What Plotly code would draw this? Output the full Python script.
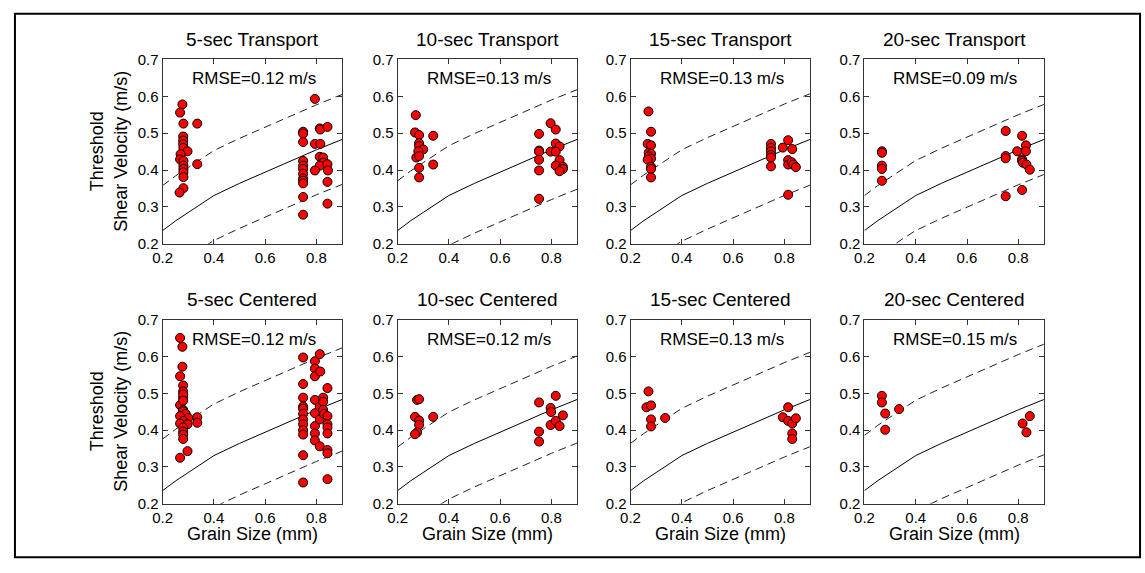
import plotly.graph_objects as go

W, H = 1145, 573

# ---------------- data ----------------
model_x = [0.2, 0.25, 0.3, 0.35, 0.4, 0.5, 0.6, 0.7, 0.8, 0.9]
model_y = [0.236, 0.262, 0.285, 0.309, 0.331, 0.364, 0.395, 0.425, 0.455, 0.483]

panel_titles = ["5-sec Transport", "10-sec Transport", "15-sec Transport", "20-sec Transport",
                "5-sec Centered", "10-sec Centered", "15-sec Centered", "20-sec Centered"]
rmse_labels = ["RMSE=0.12 m/s", "RMSE=0.13 m/s", "RMSE=0.13 m/s", "RMSE=0.09 m/s",
               "RMSE=0.12 m/s", "RMSE=0.12 m/s", "RMSE=0.13 m/s", "RMSE=0.15 m/s"]
band_halfwidth = [0.122, 0.135, 0.124, 0.095, 0.140, 0.118, 0.128, 0.150]

x_ticks = [0.2, 0.4, 0.6, 0.8]
y_ticks = [0.2, 0.3, 0.4, 0.5, 0.6, 0.7]

t5_x = [0.277, 0.268, 0.281, 0.335, 0.280, 0.280, 0.280, 0.281, 0.297, 0.270, 0.268, 0.281,
        0.281, 0.281, 0.281, 0.281, 0.335, 0.281, 0.266,
        0.794, 0.748, 0.748, 0.748, 0.748, 0.748, 0.748, 0.748, 0.748, 0.748, 0.748, 0.748,
        0.748, 0.813, 0.815, 0.843, 0.794, 0.815, 0.813, 0.826, 0.826, 0.813, 0.843, 0.845,
        0.794, 0.843, 0.843]
t5_y = [0.578, 0.556, 0.526, 0.526, 0.491, 0.480, 0.470, 0.460, 0.451, 0.443, 0.429, 0.425,
        0.412, 0.403, 0.394, 0.381, 0.416, 0.351, 0.339,
        0.593, 0.504, 0.499, 0.476, 0.425, 0.412, 0.403, 0.390, 0.377, 0.371, 0.364, 0.327,
        0.279, 0.513, 0.510, 0.517, 0.471, 0.471, 0.436, 0.434, 0.420, 0.412, 0.416, 0.399,
        0.399, 0.368, 0.309]

t10_x = [0.271, 0.268, 0.284, 0.339, 0.284, 0.284, 0.300, 0.281, 0.273, 0.284, 0.339, 0.284,
         0.284,
         0.752, 0.752, 0.752, 0.752, 0.752, 0.752, 0.797, 0.817, 0.797, 0.817, 0.832, 0.817,
         0.832, 0.817, 0.845, 0.845, 0.832]
t10_y = [0.549, 0.502, 0.495, 0.493, 0.473, 0.465, 0.456, 0.451, 0.434, 0.438, 0.415, 0.406,
         0.380,
         0.498, 0.453, 0.450, 0.428, 0.399, 0.322, 0.527, 0.510, 0.450, 0.472, 0.464, 0.450,
         0.427, 0.412, 0.409, 0.403, 0.397]

t15_x = [0.270, 0.280, 0.267, 0.280, 0.271, 0.280, 0.271, 0.280, 0.267, 0.280, 0.280, 0.280,
         0.748, 0.748, 0.748, 0.748, 0.748, 0.748, 0.794, 0.815, 0.831, 0.815, 0.815, 0.829,
         0.835, 0.845, 0.815]
t15_y = [0.559, 0.504, 0.471, 0.467, 0.447, 0.444, 0.437, 0.431, 0.428, 0.409, 0.403, 0.380,
         0.471, 0.460, 0.451, 0.441, 0.434, 0.410, 0.461, 0.481, 0.457, 0.427, 0.415, 0.421,
         0.415, 0.408, 0.333]

t20_x = [0.268, 0.268, 0.268, 0.268, 0.268,
         0.751, 0.751, 0.751, 0.751, 0.796, 0.815, 0.830, 0.830, 0.815, 0.815, 0.818, 0.832,
         0.845, 0.815]
t20_y = [0.451, 0.447, 0.412, 0.403, 0.371,
         0.506, 0.438, 0.432, 0.329, 0.451, 0.493, 0.467, 0.451, 0.429, 0.425, 0.420, 0.415,
         0.401, 0.346]

c5_x = [0.268, 0.277, 0.277, 0.268, 0.280, 0.280, 0.280, 0.268, 0.280, 0.280, 0.290, 0.268,
        0.300, 0.280, 0.268, 0.297, 0.280, 0.280, 0.280, 0.280, 0.297, 0.268, 0.335, 0.335,
        0.280, 0.280,
        0.748, 0.748, 0.748, 0.748, 0.748, 0.748, 0.748, 0.748, 0.748, 0.748, 0.748, 0.748,
        0.794, 0.794, 0.794, 0.794, 0.794, 0.794, 0.794, 0.794, 0.813, 0.815, 0.813, 0.813,
        0.813, 0.826, 0.826, 0.826, 0.830, 0.843, 0.843, 0.843, 0.843, 0.843, 0.843, 0.843,
        0.843]
c5_y = [0.650, 0.626, 0.572, 0.546, 0.521, 0.505, 0.488, 0.468, 0.455, 0.451, 0.444, 0.438,
        0.433, 0.425, 0.418, 0.416, 0.407, 0.396, 0.388, 0.376, 0.343, 0.325, 0.435, 0.420,
        0.497, 0.480,
        0.597, 0.525, 0.488, 0.464, 0.458, 0.444, 0.429, 0.416, 0.400, 0.388, 0.332, 0.258,
        0.587, 0.567, 0.546, 0.482, 0.446, 0.411, 0.391, 0.372, 0.606, 0.559, 0.464, 0.429,
        0.356, 0.488, 0.477, 0.455, 0.444, 0.514, 0.438, 0.416, 0.407, 0.391, 0.346, 0.337,
        0.267]

c10_x = [0.276, 0.284, 0.268, 0.284, 0.284, 0.276, 0.268, 0.339,
         0.752, 0.752, 0.752, 0.817, 0.797, 0.799, 0.797, 0.817, 0.832, 0.845]
c10_y = [0.482, 0.484, 0.436, 0.426, 0.414, 0.394, 0.389, 0.436,
         0.475, 0.396, 0.369, 0.493, 0.460, 0.449, 0.414, 0.425, 0.411, 0.440]

c15_x = [0.270, 0.262, 0.280, 0.280, 0.280, 0.335,
         0.794, 0.815, 0.815, 0.831, 0.845, 0.831, 0.831]
c15_y = [0.505, 0.462, 0.467, 0.429, 0.410, 0.433,
         0.435, 0.462, 0.425, 0.418, 0.432, 0.391, 0.376]

c20_x = [0.268, 0.268, 0.281, 0.281, 0.335,
         0.817, 0.845, 0.832]
c20_y = [0.493, 0.475, 0.445, 0.401, 0.457,
         0.418, 0.438, 0.394]

panel_x = [t5_x, t10_x, t15_x, t20_x, c5_x, c10_x, c15_x, c20_x]
panel_y = [t5_y, t10_y, t15_y, t20_y, c5_y, c10_y, c15_y, c20_y]

# ---------------- layout geometry (pixels) ----------------
col_left = [154, 391, 626, 862]
pw = 181
row_top = [52, 320]
ph = 190

FONT = "Liberation Sans, Arial, sans-serif"
AX = "#333333"

fig = go.Figure()
layout = dict(width=W, height=H, margin=dict(l=0, r=0, t=0, b=0),
              paper_bgcolor="white", plot_bgcolor="white", showlegend=False,
              font=dict(family=FONT, color="black"))
annotations = []

for i in range(8):
    r, c = divmod(i, 4)
    n = i + 1
    xa = "x" if n == 1 else f"x{n}"
    ya = "y" if n == 1 else f"y{n}"
    L = col_left[c]
    T = row_top[r]
    layout[f"xaxis{n}" if n > 1 else "xaxis"] = dict(
        domain=[L / W, (L + pw) / W], anchor=ya, range=[0.2, 0.9],
        tickvals=x_ticks, tickformat=".1f", ticks="inside", ticklen=5, tickcolor=AX,
        showline=True, linecolor=AX, linewidth=1, mirror="allticks",
        showgrid=False, zeroline=False, tickfont=dict(size=15, family=FONT, color="black"))
    layout[f"yaxis{n}" if n > 1 else "yaxis"] = dict(
        domain=[1 - (T + ph) / H, 1 - T / H], anchor=xa, range=[0.2, 0.7],
        tickvals=y_ticks, tickformat=".1f", ticks="inside", ticklen=5, tickcolor=AX,
        showline=True, linecolor=AX, linewidth=1, mirror="allticks",
        showgrid=False, zeroline=False, tickfont=dict(size=15, family=FONT, color="black"))

    b = band_halfwidth[i]
    upper = [v + b for v in model_y]
    lower = [v - b for v in model_y]
    fig.add_trace(go.Scatter(x=model_x, y=model_y, mode="lines", xaxis=xa, yaxis=ya,
                             line=dict(color="black", width=1), hoverinfo="skip"))
    for band in (upper, lower):
        fig.add_trace(go.Scatter(x=model_x, y=band, mode="lines", xaxis=xa, yaxis=ya,
                                 line=dict(color="#222222", width=1, dash="8px,5px"),
                                 hoverinfo="skip"))
    fig.add_trace(go.Scatter(x=panel_x[i], y=panel_y[i], mode="markers", xaxis=xa, yaxis=ya,
                             marker=dict(size=9, color="#ff0000",
                                         line=dict(color="black", width=1)),
                             cliponaxis=True))

    # panel title
    annotations.append(dict(text=panel_titles[i], xref="paper", yref="paper",
                            x=(L + pw / 2) / W, y=1 - (T - 21) / H, xanchor="center",
                            yanchor="middle", showarrow=False,
                            font=dict(size=19, family=FONT, color="black")))
    # RMSE text
    annotations.append(dict(text=rmse_labels[i], xref=xa, yref=ya, x=0.555, y=0.647,
                            xanchor="center", yanchor="middle", showarrow=False,
                            font=dict(size=17, family=FONT, color="black")))
    if r == 1:
        annotations.append(dict(text="Grain Size (mm)", xref="paper", yref="paper",
                                x=(L + pw / 2) / W, y=1 - 541 / H, xanchor="center",
                                yanchor="middle", showarrow=False,
                                font=dict(size=18, family=FONT, color="black")))
    if c == 0:
        annotations.append(dict(text="Threshold<br>Shear Velocity (m/s)", xref="paper",
                                yref="paper", x=100 / W, y=1 - (T + ph / 2) / H,
                                xanchor="center", yanchor="middle", textangle=-90,
                                showarrow=False,
                                font=dict(size=18, family=FONT, color="black")))

layout["annotations"] = annotations
layout["shapes"] = [dict(type="rect", xref="paper", yref="paper",
                         x0=5 / W, x1=1140 / W, y0=1 - 565 / H, y1=1 - 5 / H,
                         line=dict(color="black", width=2), fillcolor="rgba(0,0,0,0)")]
fig.update_layout(**layout)
fig.write_html("out.html",
               post_script="document.body.style.margin='0';document.body.style.overflow='hidden';")
